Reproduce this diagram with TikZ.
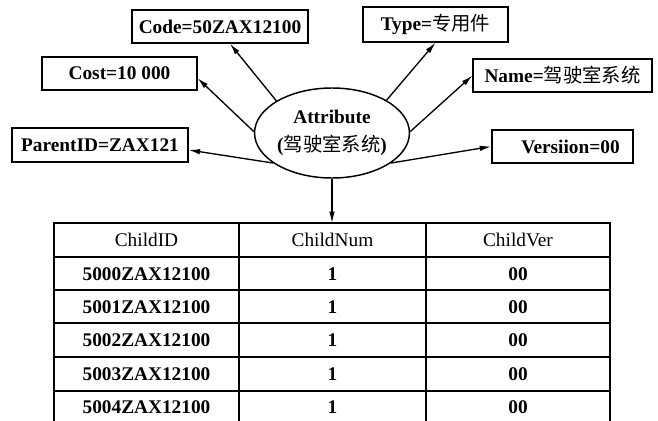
\documentclass[tikz,border=0pt]{standalone}
\usepackage{fontspec}
\setmainfont{Liberation Serif}
\newfontfamily\cjk{Noto Sans CJK SC}
\usetikzlibrary{arrows.meta,shapes.geometric}
\begin{document}
\begin{tikzpicture}[x=0.75pt,y=-0.75pt,
  box/.style={draw,line width=1.1pt,inner sep=0pt,minimum height=24.75pt,font=\fontsize{14.5}{17}\selectfont\bfseries},
  arr/.style={line width=1pt,-{Latex[length=8.5pt,width=4.2pt]}},
  cell/.style={font=\fontsize{14.5}{17}\selectfont\bfseries},
  head/.style={font=\fontsize{14.5}{17}\selectfont},
  grid/.style={line width=1.1pt}]
\useasboundingbox (0,0) rectangle (658,421);
% ellipse
\node[draw,ellipse,line width=1.1pt,minimum width=113pt,minimum height=67.5pt,inner sep=0pt,align=center,
  font=\fontsize{14.5}{17}\selectfont\bfseries] (ell) at (332,133) {Attribute\\[4pt](\mbox{\cjk\mdseries 驾驶室系统})};
% boxes
\node[box,minimum width=132pt] (code) at (220,26.5) {Code=50ZAX12100};
\node[box,minimum width=116pt] (cost) at (119.5,73.5) {Cost=10 000};
\node[box,minimum width=132pt,minimum height=25.5pt] (parent) at (100,145) {ParentID=ZAX121};
\node[box,minimum width=109pt,minimum height=26pt] (type) at (435.5,24.5) {Type={\cjk\mdseries 专用件}};
\node[box,minimum width=134pt] (name) at (562.5,75.5) {Name={\cjk\mdseries 驾驶室系统}};
\node[box,minimum width=106pt] (vers) at (562.5,146.5) {\hspace{12pt}Versiion=00};
% arrows
\draw[arr] (ell.150) -- ([xshift=7.5pt]code.south);
\draw[arr] (ell.179) -- ([yshift=-3.5pt]cost.east);
\draw[arr] (ell.207) -- ([yshift=-3.75pt]parent.east);
\draw[arr] (ell.31) -- (type.south);
\draw[arr] (ell.1) -- (name.west);
\draw[arr] (ell.333) -- (vers.west);
% table
\coordinate (tabtop) at (332,223);
\draw[arr] (ell.south) -- (tabtop);
\draw[grid] (54,421) -- (54,223) -- (610,223) -- (610,421);
\draw[grid] (239,223) -- (239,421);
\draw[grid] (426,223) -- (426,421);
\foreach \yy in {257,290,323,357,391} \draw[grid] (54,\yy) -- (610,\yy);
\node[head] (h1) at (146.5,240) {ChildID};
\node[head] (h2) at (332.5,240) {ChildNum};
\node[head] (h3) at (518,240) {ChildVer};
\foreach \i/\yy in {0/274,1/307,2/340,3/374,4/407}{
  \node[cell] (a\i) at (146.5,\yy) {500\i ZAX12100};
  \node[cell] (b\i) at (332.5,\yy) {1};
  \node[cell] (c\i) at (518,\yy) {00};
}
\end{tikzpicture}
\end{document}
